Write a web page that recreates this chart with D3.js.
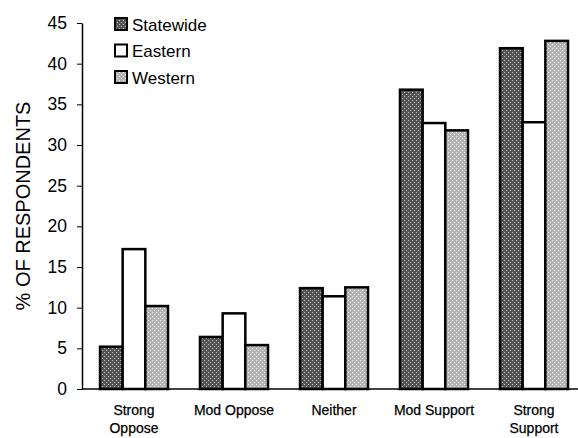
<!DOCTYPE html>
<html>
<head>
<meta charset="utf-8">
<script src="https://cdn.jsdelivr.net/npm/d3@7"></script>
<style>
  body { margin: 0; background: #fff; }
  svg { font-family: "Liberation Sans", Arial, sans-serif; }
</style>
</head>
<body>
<div id="chart"></div>
<script>
// data
const categories = ["Strong Oppose", "Mod Oppose", "Neither", "Mod Support", "Strong Support"]
const categoryLines = [["Strong", "Oppose"], ["Mod Oppose"], ["Neither"], ["Mod Support"], ["Strong", "Support"]]
const seriesNames = ["Statewide", "Eastern", "Western"]
const statewide = [5.2, 6.4, 12.4, 36.8, 41.9]
const eastern = [17.2, 9.3, 11.4, 32.7, 32.8]
const western = [10.2, 5.4, 12.5, 31.8, 42.8]
const yTicks = [0, 5, 10, 15, 20, 25, 30, 35, 40, 45]

const W = 578, H = 438

const svg = d3.select("#chart").append("svg")
    .attr("width", W)
    .attr("height", H)

// stipple patterns for the grey bars
const defs = svg.append("defs")
function stipple(id, base, dot) {
    const p = defs.append("pattern")
        .attr("id", id)
        .attr("width", 4).attr("height", 4)
        .attr("patternUnits", "userSpaceOnUse")
    p.append("rect").attr("width", 4).attr("height", 4).attr("fill", base)
    p.append("rect").attr("x", 0).attr("y", 0).attr("width", 1).attr("height", 1).attr("fill", dot)
    p.append("rect").attr("x", 2).attr("y", 2).attr("width", 1).attr("height", 1).attr("fill", dot)
}
stipple("patState", "#555", "#bbb")
stipple("patWest", "#b4b4b4", "#f2f2f2")
const fills = ["url(#patState)", "#fff", "url(#patWest)"]

// scales
const x = d3.scaleBand()
    .domain(categories)
    .range([84, 584])
    .paddingInner(0.32)
    .paddingOuter(0.16)

const xs = d3.scaleBand()
    .domain(seriesNames)
    .range([0, x.bandwidth()])

const y = d3.scaleLinear()
    .domain([0, 45])
    .range([389, 23])

// y axis
const yAxis = d3.axisLeft(y)
    .tickValues(yTicks)
    .tickSize(5)
    .tickSizeOuter(0)
    .tickPadding(10)

const yg = svg.append("g")
    .attr("transform", "translate(82,0)")
    .call(yAxis)
yg.select(".domain").attr("stroke", "#000").attr("stroke-width", 1.5)
yg.selectAll(".tick line").attr("stroke", "#000")
yg.selectAll(".tick text")
    .attr("font-size", 17.5)
    .attr("fill", "#000")
    .attr("font-family", "Liberation Sans, Arial, sans-serif")

svg.append("text")
    .attr("transform", "translate(30," + y(22.5) + ") rotate(-90)")
    .attr("text-anchor", "middle")
    .attr("font-size", 20)
    .text("% OF RESPONDENTS")

// bars
const rows = categories.map((c, i) => ({
    cat: c,
    vals: [statewide[i], eastern[i], western[i]]
}))

const groups = svg.selectAll(".grp")
    .data(rows)
    .enter().append("g")
    .attr("class", "grp")
    .attr("transform", d => "translate(" + x(d.cat) + ",0)")

groups.selectAll("rect")
    .data(d => d.vals.map((v, j) => ({ v: v, s: seriesNames[j], j: j })))
    .enter().append("rect")
    .attr("x", d => xs(d.s))
    .attr("y", d => y(d.v))
    .attr("width", xs.bandwidth())
    .attr("height", d => y(0) - y(d.v))
    .attr("fill", d => fills[d.j])
    .attr("stroke", "#000")
    .attr("stroke-width", 2.5)

// baseline
svg.append("line")
    .attr("x1", 82).attr("x2", W)
    .attr("y1", y(0)).attr("y2", y(0))
    .attr("stroke", "#000")
    .attr("stroke-width", 1.5)

// x labels
const xl = svg.selectAll(".xlab")
    .data(categories)
    .enter().append("text")
    .attr("class", "xlab")
    .attr("text-anchor", "middle")
    .attr("font-size", 14)
    .attr("stroke", "#000")
    .attr("stroke-width", 0.25)
    .attr("x", d => x(d) + x.bandwidth() / 2)
    .attr("y", 415)

xl.each(function(d, i) {
    d3.select(this).selectAll("tspan")
        .data(categoryLines[i])
        .enter().append("tspan")
        .attr("x", x(d) + x.bandwidth() / 2)
        .attr("dy", (t, k) => k === 0 ? 0 : 18)
        .text(t => t)
})

// legend
const legend = svg.append("g").attr("transform", "translate(115,0)")
seriesNames.forEach((s, i) => {
    const ly = 24 + i * 26.5
    legend.append("rect")
        .attr("x", 0).attr("y", ly - 6)
        .attr("width", 12).attr("height", 12)
        .attr("fill", fills[i])
        .attr("stroke", "#000")
        .attr("stroke-width", 2)
    legend.append("text")
        .attr("x", 17).attr("y", ly + 6.5)
        .attr("font-size", 17)
        .text(s)
})
</script>
</body>
</html>
